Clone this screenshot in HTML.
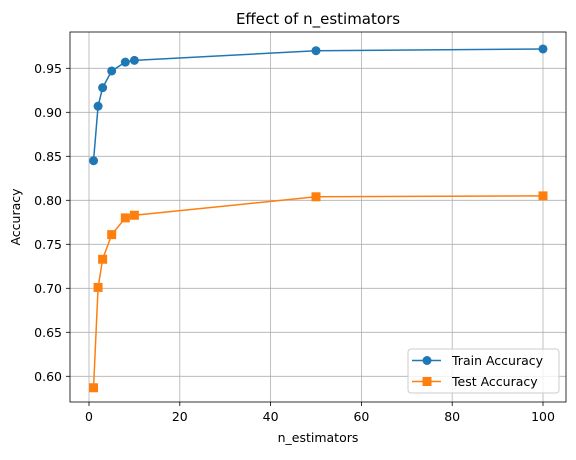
<!DOCTYPE html>
<html><head><meta charset="utf-8"><style>
body{margin:0;background:#fff;font-family:"Liberation Sans","DejaVu Sans",sans-serif;}
svg text{font-family:"DejaVu Sans","Liberation Sans",sans-serif;}
</style></head><body>
<svg id="chart" width="576" height="455" xmlns="http://www.w3.org/2000/svg">
<rect width="576" height="455" fill="#fff"/>
<g id="grid"></g><g id="ticks"></g><g id="series"></g>
<rect x="70" y="32" width="496" height="370" fill="none" stroke="#000" stroke-width="0.8"/>
<text x="318" y="24" font-size="15" text-anchor="middle">Effect of n_estimators</text>
<text x="318" y="442" font-size="12.5" text-anchor="middle">n_estimators</text>
<text x="20" y="217" font-size="12.5" text-anchor="middle" transform="rotate(-90 20 217)">Accuracy</text>
<g>
<rect x="408" y="349" width="151" height="44" rx="3" fill="#fff" fill-opacity="0.8" stroke="#ccc"/>
<g>
<line x1="412" y1="360.5" x2="441" y2="360.5" stroke="#1f77b4" stroke-width="1.5"/><circle cx="427" cy="360.5" r="4.5" fill="#1f77b4"/>
<text x="452" y="365" font-size="12.5">Train Accuracy</text></g>
<g>
<line x1="412" y1="381.5" x2="441" y2="381.5" stroke="#ff7f0e" stroke-width="1.5"/><rect x="422.5" y="377" width="9" height="9" fill="#ff7f0e"/>
<text x="452" y="386" font-size="12.5">Test Accuracy</text></g>
</g>
</svg>
<script>
const nEstimators=[1,2,3,5,8,10,50,100];
const trainAcc=[0.845,0.907,0.928,0.947,0.957,0.959,0.970,0.972];
const testAcc=[0.587,0.701,0.733,0.761,0.780,0.783,0.804,0.805];
const xTicks=[0,20,40,60,80,100];
const yTicks=[0.60,0.65,0.70,0.75,0.80,0.85,0.90,0.95];
const NS="http://www.w3.org/2000/svg";
const xs=v=>89+v*4.54;
const ys=v=>376.3-(v-0.6)*880;
function mk(t,a,p){const e=document.createElementNS(NS,t);for(const k in a)e.setAttribute(k,a[k]);p.appendChild(e);return e;}
const G=document.getElementById('grid'),T=document.getElementById('ticks'),S=document.getElementById('series');
xTicks.forEach(v=>{const x=xs(v);
 const g=mk('line',{x1:x,x2:x,y1:32,y2:402,stroke:'#b0b0b0','stroke-width':0.8},G);
 
 
 mk('line',{x1:x,x2:x,y1:402,y2:406,stroke:'#000','stroke-width':0.8},T);
 const t=mk('text',{x:x,y:421,'font-size':12.5,'text-anchor':'middle'},T);t.textContent=v;
 
 });
yTicks.forEach(v=>{const y=ys(v);
 const g=mk('line',{x1:70,x2:566,y1:y,y2:y,stroke:'#b0b0b0','stroke-width':0.8},G);
 
 
 mk('line',{x1:66,x2:70,y1:y,y2:y,stroke:'#000','stroke-width':0.8},T);
 const t=mk('text',{x:62,y:y+4.5,'font-size':12.5,'text-anchor':'end'},T);t.textContent=v.toFixed(2);
 
 });
function series(vals,color,sq,name){
 const pl=mk('polyline',{points:nEstimators.map((n,i)=>xs(n)+','+ys(vals[i])).join(' '),fill:'none',stroke:color,'stroke-width':1.5},S);
 
 
 nEstimators.forEach((n,i)=>{const x=xs(n),y=ys(vals[i]);
  const m=sq?mk('rect',{x:x-4.5,y:y-4.5,width:9,height:9,fill:color},S):mk('circle',{cx:x,cy:y,r:4.5,fill:color},S);
  
  });
}
series(trainAcc,'#1f77b4',false,'train');
series(testAcc,'#ff7f0e',true,'test');
</script>
</body></html>
